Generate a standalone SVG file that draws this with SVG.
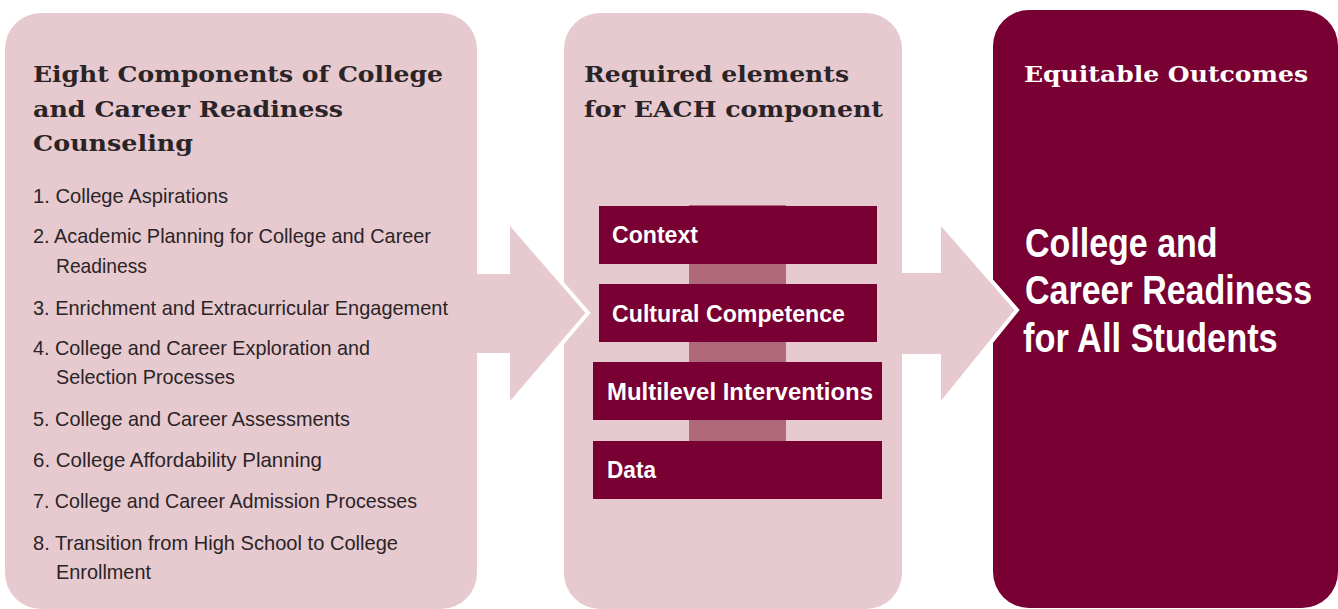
<svg xmlns="http://www.w3.org/2000/svg" width="1338" height="609" viewBox="0 0 1338 609">
<style>
.panel{fill:#e6cad0}
.dark{fill:#780032}
.bar{fill:#b0697a}
.hd{font-family:"DejaVu Serif","Liberation Serif",serif;font-weight:bold;font-size:23px}
.hdDark{fill:#2b2426}
.hdLight{fill:#ffffff}
.li{font-family:"Liberation Sans Narrow","Liberation Sans",sans-serif;font-size:21px;fill:#2b2426}
.bx{font-family:"Liberation Sans Narrow","Liberation Sans",sans-serif;font-weight:bold;font-size:24px;fill:#ffffff}
.big{font-family:"Liberation Sans",Arial,sans-serif;font-weight:bold;font-size:40px;fill:#ffffff}
.arrow{fill:#e6cad0;stroke:none}
.edge{fill:none;stroke:#ffffff;stroke-width:4;stroke-linejoin:miter}
</style>
<rect width="1338" height="609" fill="#ffffff"/>
<g id="panel-left">
<rect class="panel" x="5" y="13" width="472" height="596" rx="36" ry="36"/>
</g>
<g id="panel-middle">
<rect class="panel" x="564" y="13" width="338" height="596" rx="36" ry="36"/>
</g>
<g id="panel-right">
<rect class="dark" x="993" y="10" width="345" height="598" rx="36" ry="36"/>
</g>
<g id="connectors">
<polygon class="arrow" points="470,274 510,274 510,223 588,313 510,404 510,353 470,353"/>
<polyline class="edge" points="510,223 588,313 510,404"/>
<polygon class="arrow" points="900,273 941,273 941,223 1017,310 941,404 941,354 900,354"/>
<polyline class="edge" points="941,223 1017,310 941,404"/>
</g>
<g id="left-content">
<text class="hd hdDark" x="33" y="82" textLength="410" lengthAdjust="spacingAndGlyphs">Eight Components of College</text>
<text class="hd hdDark" x="33" y="117" textLength="310" lengthAdjust="spacingAndGlyphs">and Career Readiness</text>
<text class="hd hdDark" x="33" y="151" textLength="160" lengthAdjust="spacingAndGlyphs">Counseling</text>
<text class="li" x="33" y="203" textLength="195" lengthAdjust="spacingAndGlyphs">1. College Aspirations</text>
<text class="li" x="33" y="243" textLength="398" lengthAdjust="spacingAndGlyphs">2. Academic Planning for College and Career</text>
<text class="li" x="56" y="273" textLength="91" lengthAdjust="spacingAndGlyphs">Readiness</text>
<text class="li" x="33" y="315" textLength="415" lengthAdjust="spacingAndGlyphs">3. Enrichment and Extracurricular Engagement</text>
<text class="li" x="33" y="355" textLength="337" lengthAdjust="spacingAndGlyphs">4. College and Career Exploration and</text>
<text class="li" x="56" y="384" textLength="179" lengthAdjust="spacingAndGlyphs">Selection Processes</text>
<text class="li" x="33" y="426" textLength="317" lengthAdjust="spacingAndGlyphs">5. College and Career Assessments</text>
<text class="li" x="33" y="467" textLength="289" lengthAdjust="spacingAndGlyphs">6. College Affordability Planning</text>
<text class="li" x="33" y="508" textLength="384" lengthAdjust="spacingAndGlyphs">7. College and Career Admission Processes</text>
<text class="li" x="33" y="550" textLength="365" lengthAdjust="spacingAndGlyphs">8. Transition from High School to College</text>
<text class="li" x="56" y="579" textLength="95" lengthAdjust="spacingAndGlyphs">Enrollment</text>
</g>
<g id="middle-content">
<text class="hd hdDark" x="584" y="82" textLength="265" lengthAdjust="spacingAndGlyphs">Required elements</text>
<text class="hd hdDark" x="584" y="117" textLength="299" lengthAdjust="spacingAndGlyphs">for EACH component</text>
<rect class="bar" x="689" y="205" width="97" height="236"/>
</g>
<g id="node-context">
<rect class="dark" x="599" y="206" width="278" height="58"/>
<text class="bx" x="612" y="243" textLength="86" lengthAdjust="spacingAndGlyphs">Context</text>
</g>
<g id="node-cultural">
<rect class="dark" x="599" y="284" width="278" height="58"/>
<text class="bx" x="612" y="322" textLength="233" lengthAdjust="spacingAndGlyphs">Cultural Competence</text>
</g>
<g id="node-multilevel">
<rect class="dark" x="593" y="362" width="289" height="58"/>
<text class="bx" x="607" y="400" textLength="266" lengthAdjust="spacingAndGlyphs">Multilevel Interventions</text>
</g>
<g id="node-data">
<rect class="dark" x="593" y="441" width="289" height="58"/>
<text class="bx" x="607" y="478" textLength="49" lengthAdjust="spacingAndGlyphs">Data</text>
</g>
<g id="right-content">
<text class="hd hdLight" x="1024" y="82" textLength="284" lengthAdjust="spacingAndGlyphs">Equitable Outcomes</text>
<text class="big" transform="translate(1025,257) scale(0.85,1)">College and</text>
<text class="big" transform="translate(1025,304) scale(0.85,1)">Career Readiness</text>
<text class="big" transform="translate(1023,352) scale(0.86,1)">for All Students</text>
</g>
</svg>
